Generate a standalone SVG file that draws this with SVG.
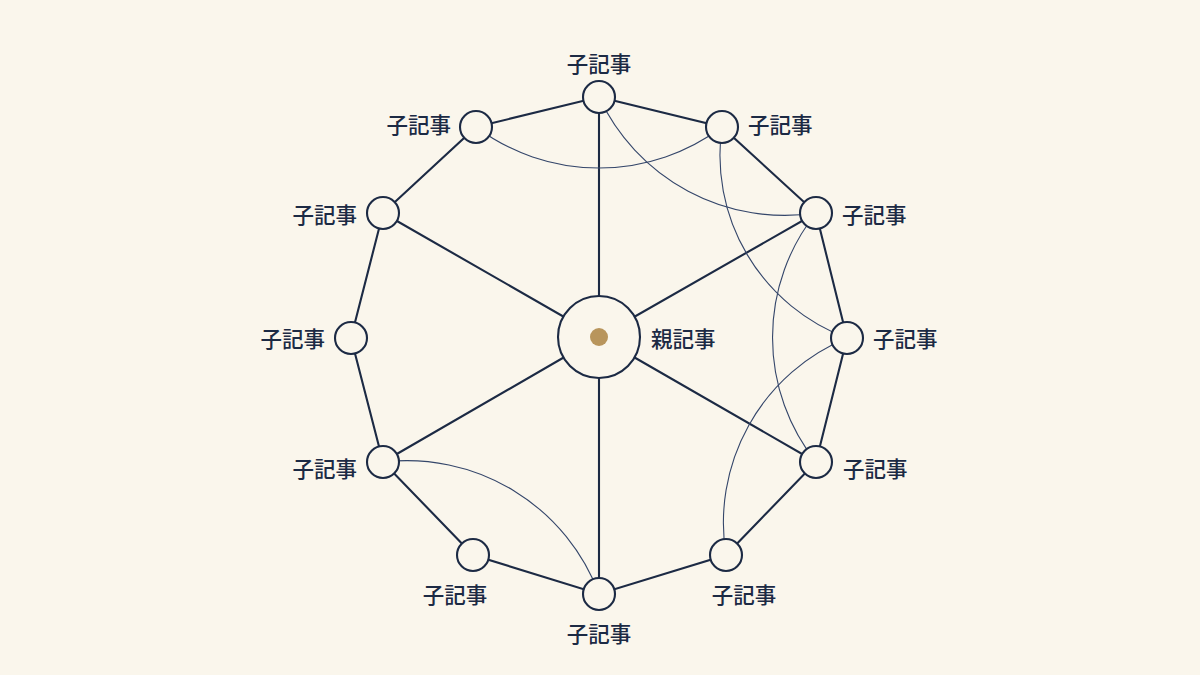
<svg xmlns="http://www.w3.org/2000/svg" width="1200" height="675" viewBox="0 0 1200 675">
  <style>
    .edge { stroke: #1c2a44; stroke-width: 2.1; fill: none; stroke-linecap: round; }
    .link { stroke: #34466a; stroke-width: 1.1; fill: none; }
    .node { fill: #faf6ec; stroke: #1c2a44; stroke-width: 2.1; }
    .lbl { font-family: "Noto Sans CJK JP", "Noto Sans", sans-serif; font-size: 21.5px; font-weight: 500; fill: #1c2a44; dominant-baseline: central; }
    .m { text-anchor: middle; }
    .e { text-anchor: end; }
    .s { text-anchor: start; }
  </style>
  <rect width="1200" height="675" fill="#faf6ec"/>
  <g id="connectors">
    <!-- ring -->
    <path class="edge" d="M599,97 L722,127 L816,213 L847,338 L816,462 L726,555 L599,594 L473,555 L383,462 L351,338 L383,213 L476,127 Z"/>
    <!-- spokes -->
    <line class="edge" x1="599" y1="337" x2="599" y2="97"/>
    <line class="edge" x1="599" y1="337" x2="816" y2="213"/>
    <line class="edge" x1="599" y1="337" x2="816" y2="462"/>
    <line class="edge" x1="599" y1="337" x2="599" y2="594"/>
    <line class="edge" x1="599" y1="337" x2="383" y2="462"/>
    <line class="edge" x1="599" y1="337" x2="383" y2="213"/>
    <!-- cross links -->
    <path class="link" d="M476,127 A205,205 0 0 0 722,127"/>
    <path class="link" d="M599,97 A205,205 0 0 0 816,213"/>
    <path class="link" d="M722,127 A195,195 0 0 0 847,338"/>
    <path class="link" d="M816,213 A200,200 0 0 0 816,462"/>
    <path class="link" d="M847,338 A200,200 0 0 0 726,555"/>
    <path class="link" d="M599,594 A205,205 0 0 0 383,462"/>
  </g>
  <g id="parent">
    <circle class="node" cx="599" cy="337" r="41"/>
    <circle cx="599" cy="337" r="9" fill="#b8955c"/>
    <text class="lbl s" x="651" y="337">親記事</text>
  </g>
  <g id="child1"><circle class="node" cx="599" cy="97" r="16"/><text class="lbl m" x="599" y="62">子記事</text></g>
  <g id="child2"><circle class="node" cx="722" cy="127" r="16"/><text class="lbl s" x="748" y="123">子記事</text></g>
  <g id="child3"><circle class="node" cx="816" cy="213" r="16"/><text class="lbl s" x="842" y="213">子記事</text></g>
  <g id="child4"><circle class="node" cx="847" cy="338" r="16"/><text class="lbl s" x="873" y="337">子記事</text></g>
  <g id="child5"><circle class="node" cx="816" cy="462" r="16"/><text class="lbl s" x="843" y="467">子記事</text></g>
  <g id="child6"><circle class="node" cx="726" cy="555" r="16"/><text class="lbl m" x="744" y="593">子記事</text></g>
  <g id="child7"><circle class="node" cx="599" cy="594" r="16"/><text class="lbl m" x="599" y="632">子記事</text></g>
  <g id="child8"><circle class="node" cx="473" cy="555" r="16"/><text class="lbl m" x="455" y="593">子記事</text></g>
  <g id="child9"><circle class="node" cx="383" cy="462" r="16"/><text class="lbl e" x="357" y="467">子記事</text></g>
  <g id="child10"><circle class="node" cx="351" cy="338" r="16"/><text class="lbl e" x="325" y="337">子記事</text></g>
  <g id="child11"><circle class="node" cx="383" cy="213" r="16"/><text class="lbl e" x="357" y="213">子記事</text></g>
  <g id="child12"><circle class="node" cx="476" cy="127" r="16"/><text class="lbl e" x="451" y="123">子記事</text></g>
</svg>
